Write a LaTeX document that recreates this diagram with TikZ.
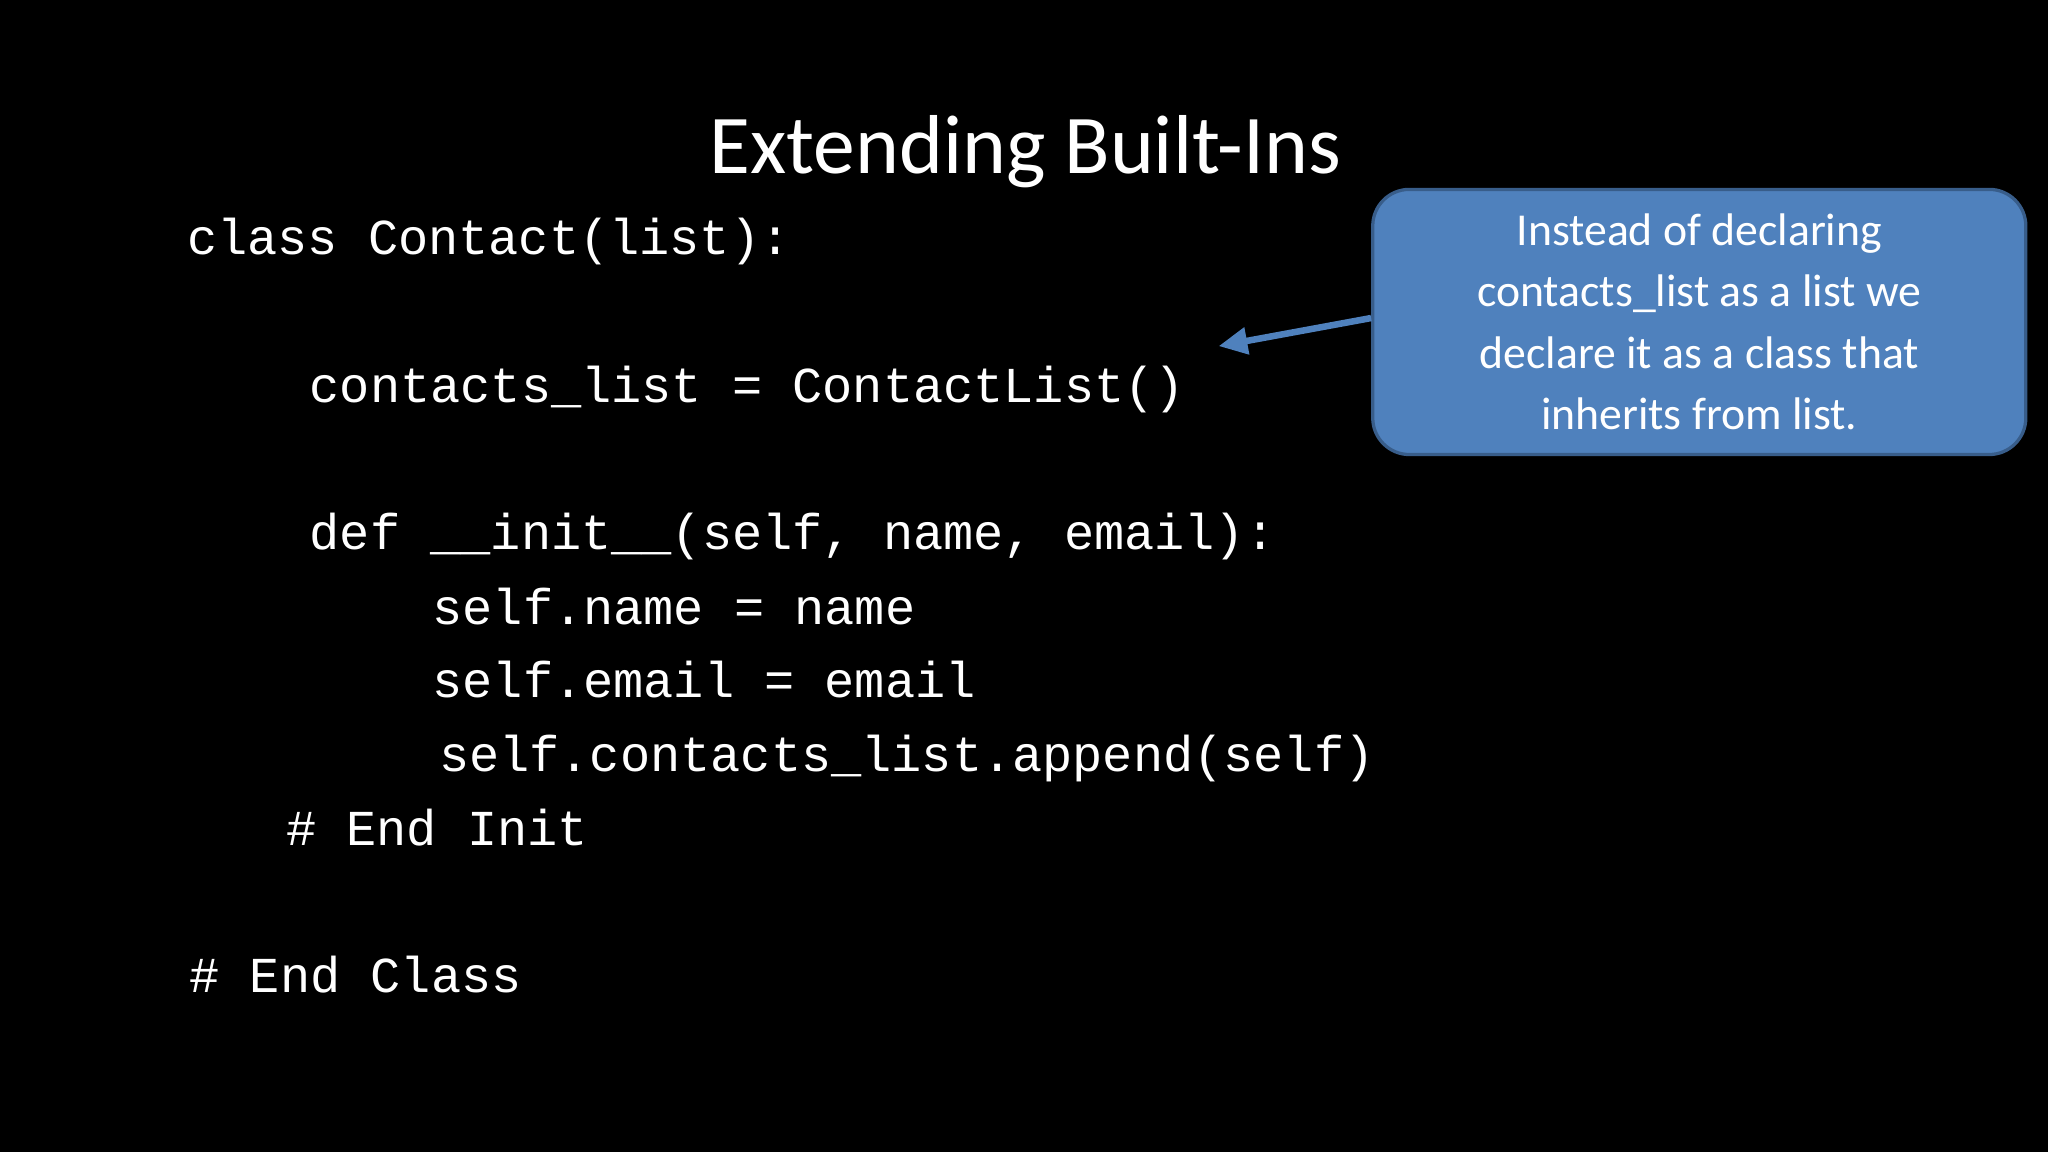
\documentclass[tikz,border=0pt]{standalone}
\usepackage{fontspec}
\setmainfont{Carlito}
\newfontfamily\codefont{Liberation Mono}
\usetikzlibrary{arrows.meta}
\definecolor{calfill}{HTML}{4F81BD}
\definecolor{caledge}{HTML}{385D8A}
\begin{document}
\begin{tikzpicture}[x=1pt,y=-1pt,
  code/.style={anchor=base west,inner sep=0pt,text=white,font=\codefont\fontsize{38.5}{40}\selectfont},
  callout/.style={draw=caledge,line width=2.5pt,fill=calfill,rounded corners=28pt,text=white,align=center,
    font=\fontsize{35}{47}\selectfont,minimum width=500pt,minimum height=203pt}]
\fill[black] (0,0) rectangle (1568,882);
\useasboundingbox (0,0) rectangle (1568,882);
\node[text=white,font=\fontsize{64}{70}\selectfont,anchor=base] (title) at (785,133) {Extending Built-Ins};
\node[code] (l1) at (143,195) {class Contact(list):};
\node[code] (l2) at (237,308) {contacts\_list  = ContactList()};
\node[code] (l3) at (237,421) {def \_\_init\_\_(self, name, email):};
\node[code] (l4) at (331,478) {self.name = name};
\node[code] (l5) at (331,534) {self.email = email};
\node[code] (l6) at (336,591) {self.contacts\_list.append(self)};
\node[code] (l7) at (219,647) {\# End Init};
\node[code] (l8) at (145,760) {\# End Class};
\node[callout] (box) at (1301,246.5) {Instead of declaring\\contacts\_list as a list we\\declare it as a class that\\inherits from list.};
\coordinate (tip) at (933,265);
\draw[calfill,line width=5pt,-{Triangle[length=22pt,width=20pt]}] (box.west) ++(0,-3) -- (tip);
\end{tikzpicture}
\end{document}
